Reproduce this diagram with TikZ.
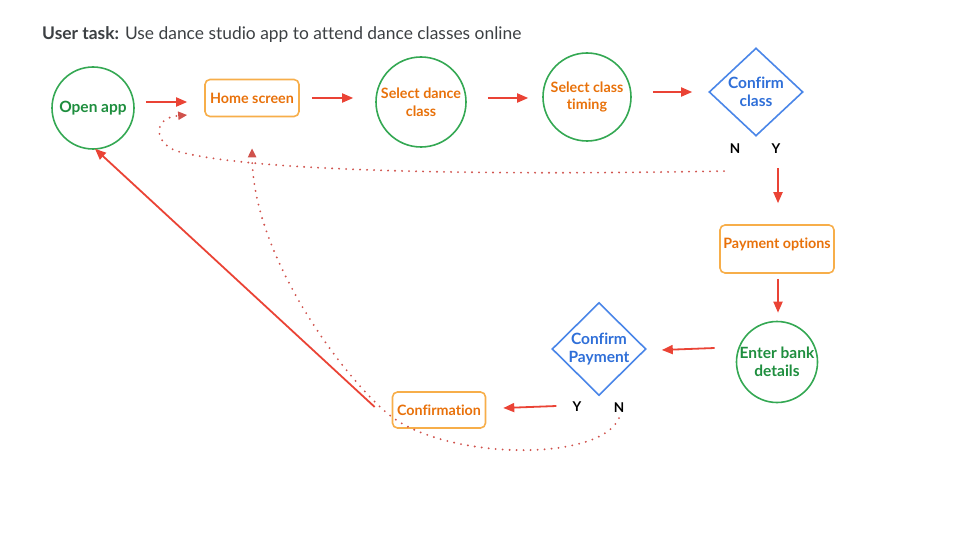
\documentclass[tikz,border=0pt]{standalone}
\usepackage{fontspec}
\setmainfont{Lato}[Ligatures=NoCommon]
\usetikzlibrary{arrows.meta,shapes.geometric}
\definecolor{gline}{HTML}{34A853}
\definecolor{gtext}{HTML}{1E8E3E}
\definecolor{oline}{HTML}{F7AE4A}
\definecolor{otext}{HTML}{E8710A}
\definecolor{bline}{HTML}{4A86E8}
\definecolor{btext}{HTML}{2F6FD8}
\definecolor{rline}{HTML}{EA4335}
\definecolor{dline}{HTML}{D0524C}
\definecolor{ttext}{HTML}{3C4043}
\tikzset{
  lbl/.style={font=\fontsize{14.3}{17.5}\selectfont\bfseries, align=center},
  glbl/.style={font=\fontsize{15.5}{18}\selectfont\bfseries},
  circ/.style={lbl, circle, draw=gline, line width=1.6pt, text=gtext, inner sep=0pt},
  ocirc/.style={circ, text=otext},
  box/.style={lbl, rectangle, rounded corners=5pt, draw=oline, line width=1.6pt, text=otext, inner sep=0pt},
  dia/.style={lbl, diamond, draw=bline, line width=1.6pt, text=btext, inner sep=0pt, font=\fontsize{15.5}{18}\selectfont\bfseries},
  yn/.style={font=\fontsize{13.5}{15}\selectfont\bfseries, text=black, inner sep=1pt},
  arr/.style={draw=rline, line width=1.8pt, -{Triangle[length=11pt,width=9pt]}},
  dotarr/.style={draw=dline, line width=2.1pt, line cap=round, dash pattern=on 0pt off 7pt, -{Triangle[length=9pt,width=8pt]}},
}
\begin{document}
\begin{tikzpicture}[x=1pt,y=-1pt]
\useasboundingbox (0,0) rectangle (960,540);

\node[anchor=west, text=ttext, font=\fontsize{17.4}{20}\selectfont, inner sep=0pt] (title) at (42,34.5) {\textbf{User task:} Use dance studio app to attend dance classes online};

\node[circ, glbl, minimum size=82pt] (open) at (93,108) {Open app};
\node[box, minimum width=94pt, minimum height=37pt] (home) at (252,98) {Home screen};
\node[ocirc, minimum size=90pt] (dance) at (421,102) {Select dance\\class};
\node[ocirc, minimum size=88pt] (timing) at (587,97) {Select class\\timing};
\node[dia, minimum width=94pt, minimum height=88pt] (cclass) at (756,92) {Confirm\\class};
\node[yn] (n1) at (735,149) {N};
\node[yn] (y1) at (776,149) {Y};
\node[box, minimum width=114pt, minimum height=48pt, text depth=12pt] (pay) at (777,249) {Payment options};
\node[circ, glbl, minimum size=81pt] (bank) at (777,362) {Enter bank\\details};
\node[dia, minimum width=94pt, minimum height=87pt] (cpay) at (599,349) {Confirm\\Payment};
\node[yn] (y2) at (577,407) {Y};
\node[yn] (n2) at (619,408) {N};
\node[box, minimum width=93pt, minimum height=36pt] (conf) at (439,410) {Confirmation};

% solid arrows
\draw[arr] ([xshift=11pt,yshift=6pt]open.east) -- ([xshift=-17pt,yshift=-4pt]home.west);
\draw[arr] ([xshift=12pt]home.east) -- ([xshift=-22pt,yshift=4pt]dance.west);
\draw[arr] ([xshift=21pt,yshift=4pt]dance.east) -- ([xshift=-14pt,yshift=-1pt]timing.west);
\draw[arr] ([xshift=21pt,yshift=5pt]timing.east) -- ([xshift=-16pt]cclass.west);
\draw[arr] ([xshift=2pt,yshift=-13pt]y1.south) -- ([xshift=1pt,yshift=21pt]pay.north);
\draw[arr] ([xshift=1pt,yshift=-5pt]pay.south) -- ([xshift=1pt,yshift=8pt]bank.north);
\draw[arr] ([xshift=-21pt,yshift=14pt]bank.west) -- ([xshift=15pt,yshift=-1pt]cpay.east);
\draw[arr] ([xshift=-15pt,yshift=1pt]y2.west) -- ([xshift=17pt,yshift=2pt]conf.east);
\draw[arr] ([xshift=-17pt,yshift=3pt]conf.west) -- ([xshift=2pt,yshift=1pt]open.south);

% dotted return paths
\draw[dotarr] ([xshift=-11pt,yshift=-16pt]n1.south) .. controls (450,176) and (250,170) .. (180,152)
  .. controls (155,146) and (150,118) .. ([xshift=-17pt,yshift=-17pt]home.west);
\draw[dotarr] ([yshift=-4pt]n2.south) .. controls (600,462) and (450,460) .. (392,417)
  .. controls (352,387) and (253,262) .. ([yshift=-31pt]home.south);
\end{tikzpicture}
\end{document}
